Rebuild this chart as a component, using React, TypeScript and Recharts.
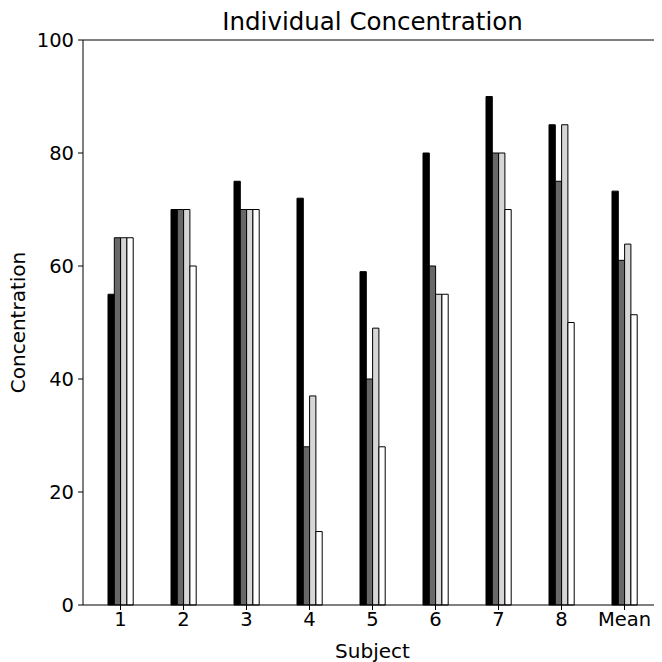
import { Bar, BarChart, Label, ReferenceLine, XAxis, YAxis } from "recharts";

// values, one list per bar colour
const subjects = ["1", "2", "3", "4", "5", "6", "7", "8", "Mean"];
const blackVals = [55, 70, 75, 72, 59, 80, 90, 85, 73.25];
const darkVals = [65, 70, 70, 28, 40, 60, 80, 75, 61];
const lightVals = [65, 70, 70, 37, 49, 55, 80, 85, 63.875];
const whiteVals = [65, 60, 70, 13, 28, 55, 70, 50, 51.375];
const yTicks = [0, 20, 40, 60, 80, 100];

const data = subjects.map((s, i) => ({
  subject: s,
  a: blackVals[i],
  b: darkVals[i],
  c: lightVals[i],
  d: whiteVals[i],
}));

const font = "'DejaVu Sans', sans-serif";

export default function App() {
  // the svg is pulled left over the body margin so the y label has room
  return (
    <div style={{ position: "relative", width: 654, height: 654, fontFamily: font }}>
      <div
        style={{
          position: "absolute",
          left: 75,
          width: 579,
          top: -1,
          lineHeight: "30px",
          textAlign: "center",
          fontSize: 24.5,
          color: "#000",
        }}
      >
        Individual Concentration
      </div>
      <BarChart
        width={662}
        height={654}
        data={data}
        margin={{ top: 32, right: 0, bottom: 0, left: 8 }}
        barGap={0}
        barSize={6.3}
        style={{ position: "absolute", top: 0, left: -8 }}
      >
        <XAxis
          dataKey="subject"
          height={57}
          padding={{ left: 6, right: 6 }}
          tick={{ fill: "#000", fontSize: 19.5, fontFamily: font }}
          tickSize={5}
          tickMargin={2}
          stroke="#000"
        >
          <Label
            value="Subject"
            position="insideBottom"
            offset={4}
            style={{ fill: "#000", fontSize: 20, fontFamily: font }}
          />
        </XAxis>
        <YAxis
          width={75}
          domain={[0, 100]}
          ticks={yTicks}
          tick={{ fill: "#000", fontSize: 19.5, fontFamily: font }}
          tickSize={5}
          tickMargin={4}
          stroke="#000"
        >
          <Label
            value="Concentration"
            angle={-90}
            position="insideLeft"
            offset={10}
            style={{ fill: "#000", fontSize: 20, fontFamily: font, textAnchor: "middle" }}
          />
        </YAxis>
        <ReferenceLine y={100} stroke="#000" />
        <Bar dataKey="a" fill="#000000" stroke="#000" strokeWidth={1} isAnimationActive={false} />
        <Bar dataKey="b" fill="#686868" stroke="#000" strokeWidth={1} isAnimationActive={false} />
        <Bar dataKey="c" fill="#d6d6d6" stroke="#000" strokeWidth={1} isAnimationActive={false} />
        <Bar dataKey="d" fill="#ffffff" stroke="#000" strokeWidth={1} isAnimationActive={false} />
      </BarChart>
    </div>
  );
}
